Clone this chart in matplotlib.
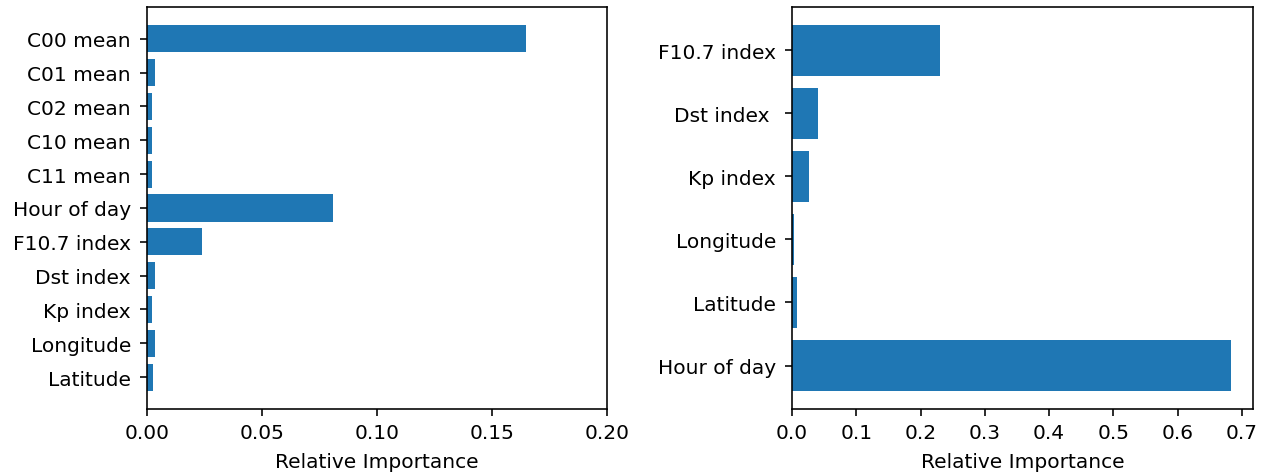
import matplotlib
matplotlib.use("Agg")
import matplotlib.pyplot as plt

# Feature importances, model with spherical-harmonic coefficients (bottom to top)
left_features = ["Latitude", "Longitude", "Kp index", "Dst index", "F10.7 index",
                 "Hour of day", "C11 mean", "C10 mean", "C02 mean", "C01 mean", "C00 mean"]
left_importance = [0.0027, 0.0035, 0.0022, 0.0035, 0.024,
                   0.081, 0.0022, 0.0022, 0.0022, 0.0035, 0.1648]

# Feature importances, model with drivers only (bottom to top)
right_features = ["Hour of day", "Latitude", "Longitude", "Kp index", "Dst index ", "F10.7 index"]
right_importance = [0.683, 0.0075, 0.003, 0.027, 0.040, 0.230]

scale = 1.45
plt.rcParams.update({
    "font.size": 10 * scale,
    "axes.linewidth": 0.8 * scale,
    "xtick.major.size": 3.5 * scale,
    "ytick.major.size": 3.5 * scale,
    "xtick.major.width": 0.8 * scale,
    "ytick.major.width": 0.8 * scale,
    "xtick.major.pad": 3.5 * scale,
    "ytick.major.pad": 6.5,
    "axes.labelpad": 7.0,
})

fig = plt.figure(figsize=(12.65, 4.77), dpi=100)
ax1 = fig.add_axes([0.1162, 0.1405, 0.3636, 0.8428])
ax2 = fig.add_axes([0.6261, 0.1405, 0.3644, 0.8428])

ax1.barh(left_features, left_importance, color="#1f77b4")
ax1.set_xlim(0, 0.20)
ax1.set_xticks([0.0, 0.05, 0.10, 0.15, 0.20])
ax1.set_xticklabels(["0.00", "0.05", "0.10", "0.15", "0.20"])
ax1.set_xlabel("Relative Importance")

ax2.barh(right_features, right_importance, color="#1f77b4")
ax2.set_xticks([0.0, 0.1, 0.2, 0.3, 0.4, 0.5, 0.6, 0.7])
ax2.set_xlabel("Relative Importance")

fig.savefig("out.png", dpi=100)
